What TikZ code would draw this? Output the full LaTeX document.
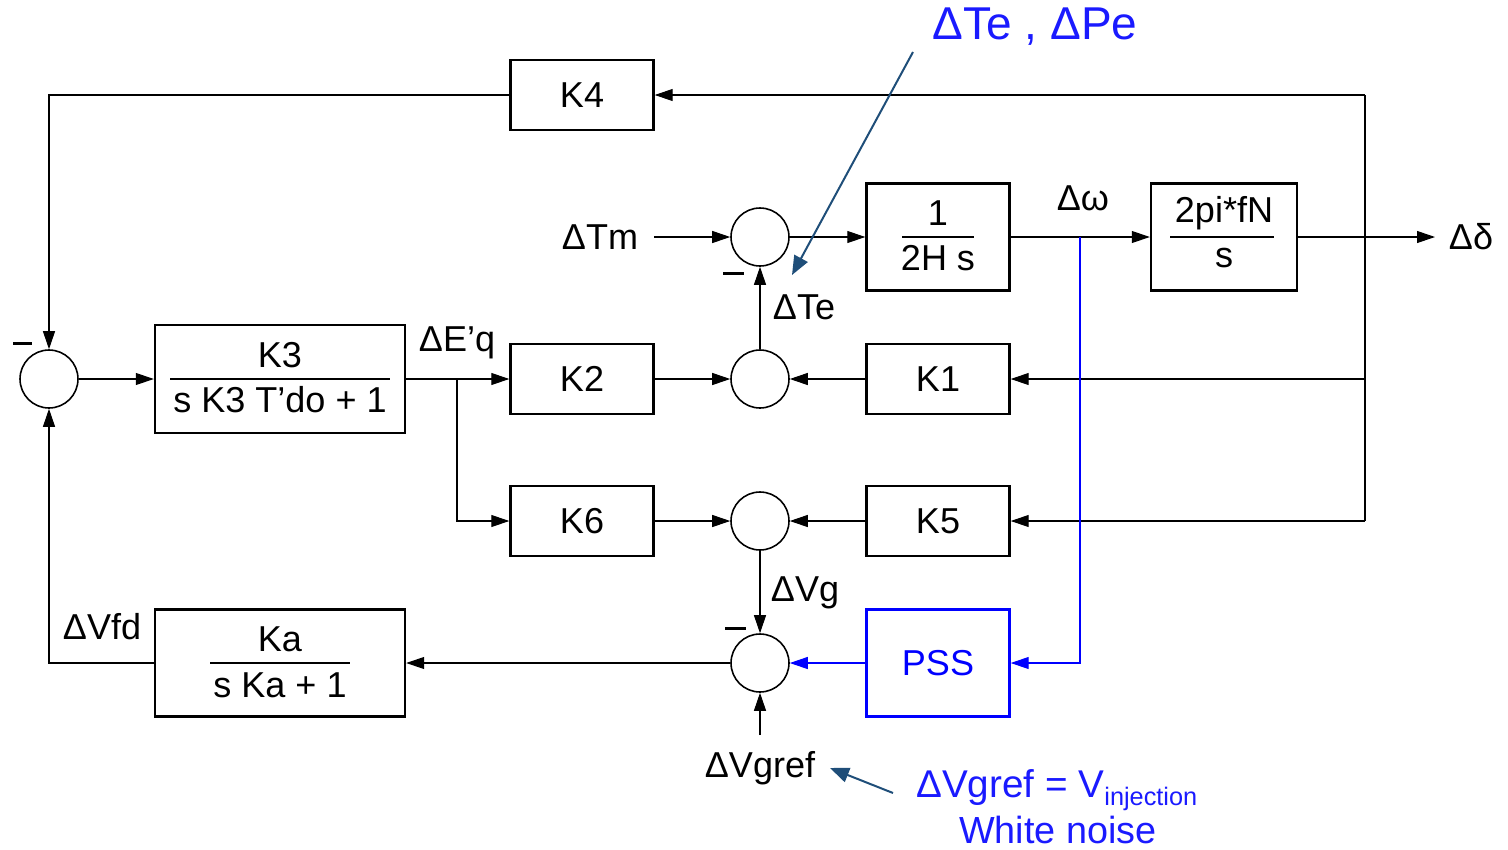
\documentclass[tikz,border=0pt]{standalone}
\usepackage{fontspec}
\setmainfont{Liberation Sans}
\usetikzlibrary{arrows.meta}
\definecolor{annot}{HTML}{1F4E79}
\definecolor{bl}{HTML}{0000FF}
\definecolor{tb}{HTML}{1A1AFF}
\begin{document}
\begin{tikzpicture}[x=0.02cm,y=-0.02cm,
  blk/.style={draw, line width=1.4pt, inner sep=0, minimum width=2.86cm, minimum height=1.4cm, font=\fontsize{20.5}{24}\selectfont},
  fblk/.style={draw, line width=1.4pt, inner sep=0},
  sum/.style={draw, circle, line width=0.9pt, minimum size=1.16cm, inner sep=0},
  sig/.style={line width=0.6pt, -{Triangle[length=0.36cm,width=0.24cm]}},
  wire/.style={line width=0.6pt},
  lbl/.style={font=\fontsize{20.5}{24}\selectfont, inner sep=0},
  minus/.style={line width=0.06cm},
  ann/.style={annot, line width=0.04cm, -{Triangle[length=0.38cm,width=0.3cm]}},
  ]
\useasboundingbox (0,0) rectangle (1508,849);
% summing junctions
\node[sum] (s0) at (49,379) {};
\node[sum] (s1) at (760,237) {};
\node[sum] (s2) at (760,379) {};
\node[sum] (s3) at (760,521) {};
\node[sum] (s4) at (760,663) {};
% simple blocks
\node[blk] (k4) at (582,95) {K4};
\node[blk] (k2) at (582,379) {K2};
\node[blk] (k1) at (938,379) {K1};
\node[blk] (k6) at (582,521) {K6};
\node[blk] (k5) at (938,521) {K5};
\node[blk, draw=bl, text=bl, minimum height=2.14cm] (pss) at (938,663) {PSS};
% fraction blocks
\node[fblk, minimum width=5cm, minimum height=2.16cm] (k3) at (280,379) {};
\node[lbl] (k3n) at (280,355) {K3};
\node[lbl] (k3d) at (280,400) {s K3 T’do + 1};
\draw[wire] (170,379) -- (390,379);
\node[fblk, minimum width=2.86cm, minimum height=2.14cm] (h) at (938,237) {};
\node[lbl] (hn) at (938,213) {1};
\node[lbl] (hd) at (938,258) {2H s};
\draw[wire] (902,237) -- (974,237);
\node[fblk, minimum width=2.92cm, minimum height=2.14cm] (pf) at (1224,237) {};
\node[lbl] (pfn) at (1224,213) {2pi*fN};
\node[lbl] (pfd) at (1224,258) {s};
\draw[wire] (1170,237) -- (1274,237);
\node[fblk, minimum width=5cm, minimum height=2.14cm] (ka) at (280,663) {};
\node[lbl] (kan) at (280,639) {Ka};
\node[lbl] (kad) at (280,685) {s Ka + 1};
\draw[wire] (210,663) -- (350,663);
% coordinates
\coordinate (br) at (457,379);
\coordinate (tmin) at (654,237);
\coordinate (dout) at (1435,237);
\coordinate (rt) at (1365,95);
\coordinate (rm) at (1365,379);
\coordinate (rb) at (1365,521);
\coordinate (wb) at (1080,237);
\coordinate (vr) at (760,735);
% connectors
\draw[sig] (s0) -- (k3);
\draw[sig] (k3.east) -- (k2.west);
\draw[sig] (br) |- (k6.west);
\draw[sig] (k2) -- (s2);
\draw[sig] (k1) -- (s2);
\draw[sig] (s2) -- (s1);
\draw[sig] (k6) -- (s3);
\draw[sig] (k5) -- (s3);
\draw[sig] (s3) -- (s4);
\draw[sig] (s4) -- (ka);
\draw[sig] (ka.west) -| (s0.south);
\draw[sig] (k4.west) -| (s0.north);
\draw[sig] (tmin) -- (s1);
\draw[sig] (s1) -- (h);
\draw[sig] (h) -- (pf);
\draw[sig] (pf) -- (dout);
\draw[wire] (rt) -- (rb);
\draw[sig] (rt) -- (k4.east);
\draw[sig] (rm) -- (k1.east);
\draw[sig] (rb) -- (k5.east);
\draw[sig, bl] (wb) |- (pss.east);
\draw[sig, bl] (pss) -- (s4);
\draw[sig] (vr) -- (s4.south);
% signal labels
\node[lbl] (ltm) at (600,237) {ΔTm};
\node[lbl] (lw) at (1083,198) {Δω};
\node[lbl] (ld) at (1471,237) {Δδ};
\node[lbl] (leq) at (457,343) {ΔE’q};
\node[lbl] (lte) at (804,307) {ΔTe};
\node[lbl] (lvg) at (805,593) {ΔVg};
\node[lbl] (lvfd) at (102,627) {ΔVfd};
\node[lbl] (lvr) at (760,768) {ΔVgref};
% minus signs
\draw[minus] (13,343) -- (32,343);
\draw[minus] (723,273) -- (744,273);
\draw[minus] (725,628) -- (746,628);
% annotations
\node[inner sep=0, text=tb, font=\fontsize{26.2}{30}\selectfont] (tpe) at (1035,27) {ΔTe , ΔPe};
\coordinate (a1s) at (913,52);
\coordinate (a1e) at (792,275);
\draw[ann] (a1s) -- (a1e);
\coordinate (a2s) at (893,793);
\coordinate (a2e) at (830,768);
\draw[ann] (a2s) -- (a2e);
\node[inner sep=0, text=tb, font=\fontsize{22}{26}\selectfont, anchor=base west] (vinj) at (916,797) {ΔVgref = V\raisebox{-0.22em}{\fontsize{14.4}{16}\selectfont injection}};
\node[inner sep=0, text=tb, font=\fontsize{21.5}{26}\selectfont] (wn) at (1058,830) {White noise};
\end{tikzpicture}
\end{document}
